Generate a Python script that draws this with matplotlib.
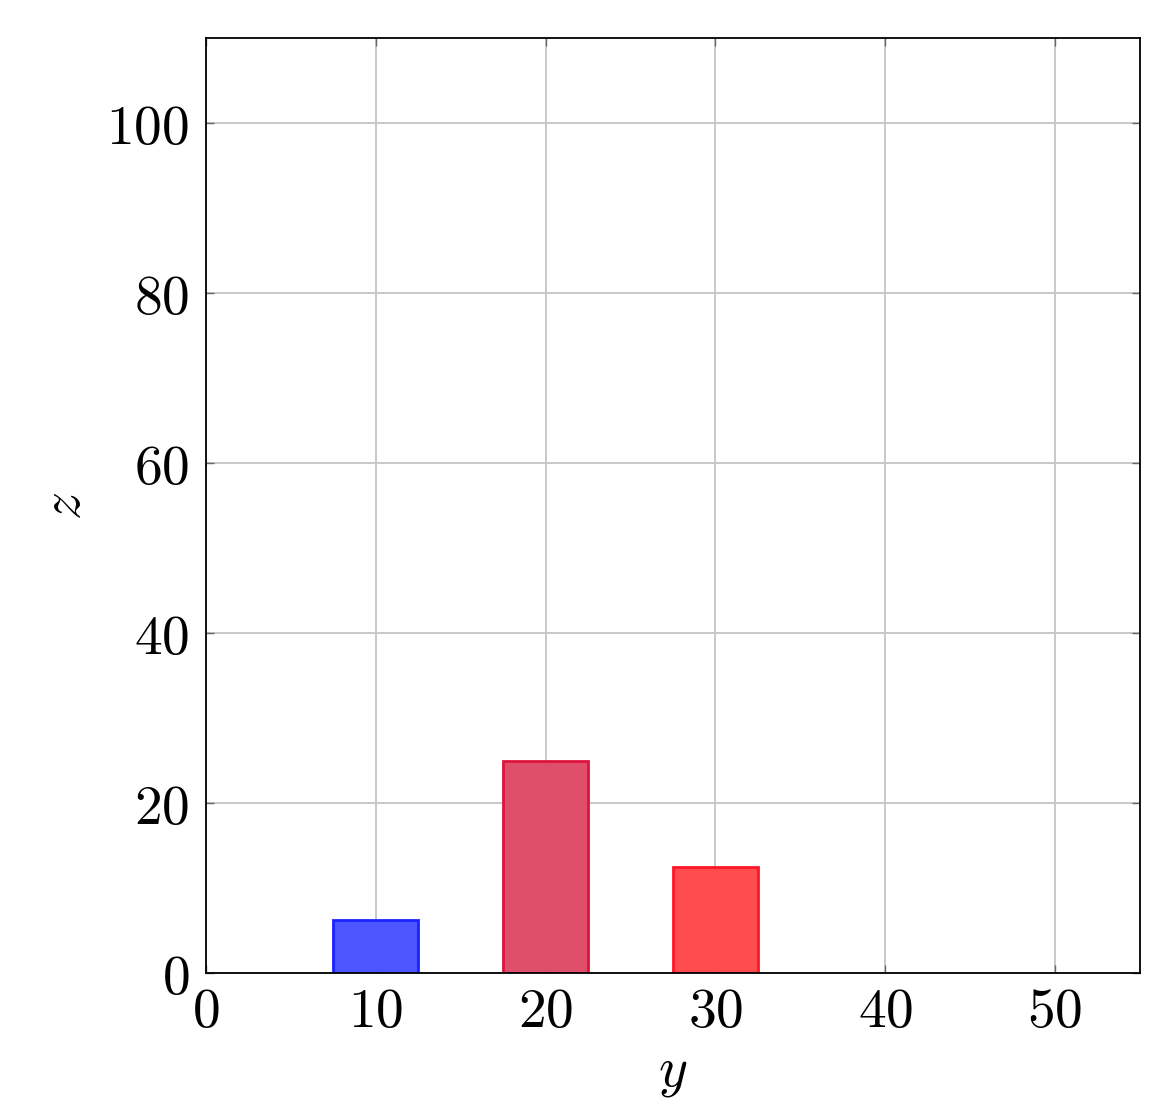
import matplotlib
matplotlib.use("Agg")
import matplotlib.pyplot as plt
from matplotlib.ticker import FuncFormatter

plt.rcParams['mathtext.fontset'] = 'cm'
plt.rcParams['font.family'] = 'serif'
plt.rcParams['font.serif'] = ['DejaVu Serif']

positions = [10, 20, 30]
values = [6.25, 25, 12.5]
fill_colors = ['#4d55ff', '#e04f6a', '#ff4d4d']
edge_colors = ['#1a22ff', '#dc143c', '#ff1428']
xticks = [0, 10, 20, 30, 40, 50]
yticks = [0, 20, 40, 60, 80, 100]

fig = plt.figure(figsize=(11.54, 11.08), dpi=100)
ax = fig.add_axes([0.1785, 0.1218, 0.8094, 0.8439])

ax.bar(positions, values, width=5, color=fill_colors, edgecolor=edge_colors,
       linewidth=2.0, zorder=3)

ax.set_xlim(0, 55)
ax.set_ylim(0, 110)
ax.set_xticks(xticks)
ax.set_yticks(yticks)
fmt = FuncFormatter(lambda v, p: r'$%d$' % v)
ax.xaxis.set_major_formatter(fmt)
ax.yaxis.set_major_formatter(fmt)
ax.grid(True, color='#c8c8c8', linewidth=1.4, zorder=0)
ax.tick_params(direction='in', length=6, width=1, color='#666666',
               labelsize=40, top=True, right=True, pad=12)
ax.tick_params(axis='x', pad=8)
for s in ax.spines.values():
    s.set_linewidth(1.3)
    s.set_zorder(4)
ax.set_xlabel(r'$y$', fontsize=40, labelpad=4)
ax.set_ylabel(r'$z$', fontsize=40, labelpad=10)

fig.savefig('out.png', dpi=100)
